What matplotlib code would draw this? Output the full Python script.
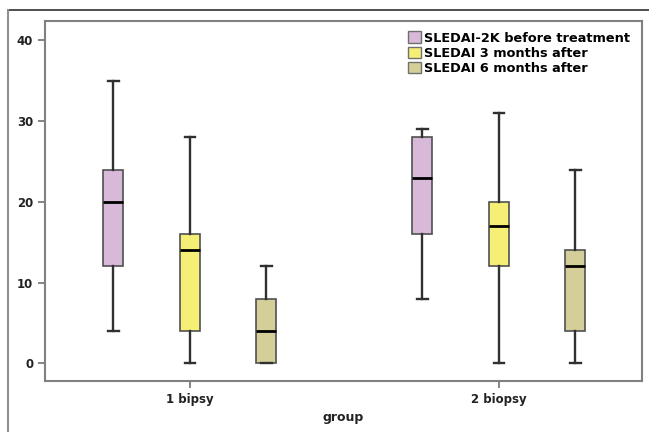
import matplotlib
matplotlib.use("Agg")
import matplotlib.pyplot as plt
from matplotlib.patches import Patch
from matplotlib.lines import Line2D

plt.rcParams['font.family'] = ['DejaVu Sans']
plt.rcParams['font.weight'] = 'bold'

groups = ["1 bipsy", "2 biopsy"]
series = ["SLEDAI-2K before treatment", "SLEDAI 3 months after", "SLEDAI 6 months after"]
colors = ["#D8B9D9", "#F5EF76", "#D4CF98"]

# per group, per series: whisker low, q1, median, q3, whisker high
whislo = [[4, 0, 0], [8, 0, 0]]
q1 = [[12, 4, 0], [16, 12, 4]]
med = [[20, 14, 4], [23, 17, 12]]
q3 = [[24, 16, 8], [28, 20, 14]]
whishi = [[35, 28, 12], [29, 31, 24]]

fig = plt.figure(figsize=(6.49, 4.32), dpi=100)
W, H = 649, 432
ax = fig.add_axes([45 / W, 1 - 381 / H, (642 - 45) / W, (381 - 21) / H])

offset = 0.2476
for gi in range(len(groups)):
    for si in range(len(series)):
        st = dict(whislo=whislo[gi][si], q1=q1[gi][si], med=med[gi][si],
                  q3=q3[gi][si], whishi=whishi[gi][si], fliers=[])
        pos = gi + 1 + (si - 1) * offset
        ax.bxp([st], positions=[pos], widths=0.065, patch_artist=True,
               showfliers=False, manage_ticks=False,
               boxprops=dict(facecolor=colors[si], edgecolor="#505050", linewidth=1.2),
               medianprops=dict(color="black", linewidth=2.0),
               whiskerprops=dict(color="#303030", linewidth=1.7),
               capprops=dict(color="#303030", linewidth=1.7),
               capwidths=0.035)

ax.set_xlim(0.531, 2.463)
ax.set_ylim(-2.2, 42.4)
ax.set_yticks([0, 10, 20, 30, 40])
ax.set_xticks([1, 2])
ax.set_xticklabels(groups)
ax.tick_params(axis="both", labelsize=8.5, length=5, width=1.2, color="#707070",
               labelcolor="#222222")
for sp in ax.spines.values():
    sp.set_color("#808080")
    sp.set_linewidth(1.5)
ax.set_xlabel("group", fontsize=9, fontweight="bold", color="#222222", labelpad=4)

handles = [Patch(facecolor=c, edgecolor="#707070", linewidth=1.0) for c in colors]
ax.legend(handles, series, loc="upper left", bbox_to_anchor=(402 / W, 1 - 25 / H),
          bbox_transform=fig.transFigure, frameon=False, borderpad=0,
          handlelength=1.0, handleheight=1.0, handletextpad=0.2,
          labelspacing=0.15, prop=dict(size=9.3, weight="bold"))

# outer frame of the figure panel
fig.add_artist(Line2D([8 / W, 1], [1 - 10 / H, 1 - 10 / H], transform=fig.transFigure,
                      color="#303030", linewidth=1.2))
fig.add_artist(Line2D([8 / W, 8 / W], [0, 1 - 10 / H], transform=fig.transFigure,
                      color="#909090", linewidth=1.5))

fig.savefig("out.png", dpi=100)
